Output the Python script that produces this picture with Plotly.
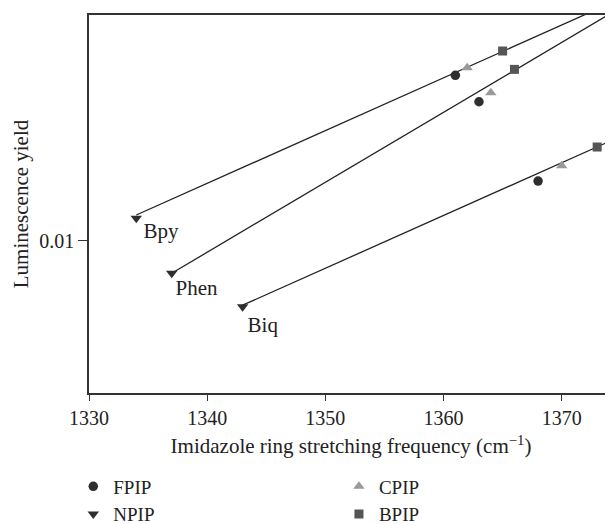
import plotly.graph_objects as go

# Imidazole ring stretching frequency (cm-1) for the three ligand series
groups = ["Bpy", "Phen", "Biq"]
npip_x = [1334, 1337, 1343]
npip_y = [0.01146, 0.00820, 0.00669]
fpip_x = [1361, 1363, 1368]
fpip_y = [0.02738, 0.02331, 0.01438]
cpip_x = [1362, 1364, 1370]
cpip_y = [0.02868, 0.02462, 0.01579]
bpip_x = [1365, 1366, 1373]
bpip_y = [0.03175, 0.02839, 0.01769]

# fitted lines (start / end)
fit_x0 = [1334, 1337, 1343]
fit_y0 = [0.01169, 0.00820, 0.00675]
fit_x1 = [1375, 1375, 1375]
fit_y1 = [0.04369, 0.04141, 0.01888]

# group label positions
label_x = [1336.1, 1339.1, 1344.7]
label_y = [0.0105, 0.0074, 0.00592]

FONT = "Liberation Serif"
fig = go.Figure()

for i in range(3):
    fig.add_trace(go.Scatter(x=[fit_x0[i], fit_x1[i]], y=[fit_y0[i], fit_y1[i]],
                             mode="lines", line=dict(color="#222222", width=1.3),
                             showlegend=False, hoverinfo="skip"))

fig.add_trace(go.Scatter(x=fpip_x, y=fpip_y, mode="markers", name="FPIP",
                         marker=dict(symbol="circle", size=9.5, color="#2e2e2e"),
                         legend="legend"))
fig.add_trace(go.Scatter(x=npip_x, y=npip_y, mode="markers", name="NPIP",
                         marker=dict(symbol="triangle-down", size=10, color="#2e2e2e"),
                         legend="legend"))
fig.add_trace(go.Scatter(x=cpip_x, y=cpip_y, mode="markers", name="CPIP",
                         marker=dict(symbol="triangle-up", size=10, color="#9a9a9a"),
                         legend="legend2"))
fig.add_trace(go.Scatter(x=bpip_x, y=bpip_y, mode="markers", name="BPIP",
                         marker=dict(symbol="square", size=9, color="#555555"),
                         legend="legend2"))

fig.add_trace(go.Scatter(x=label_x, y=label_y, mode="text", text=groups,
                         textposition="middle center",
                         textfont=dict(family=FONT, size=21, color="#222222"),
                         showlegend=False, hoverinfo="skip"))

legend_common = dict(font=dict(family=FONT, size=19, color="#222222"),
                     orientation="v", xanchor="left", yanchor="top",
                     bgcolor="rgba(0,0,0,0)", tracegroupgap=0)

# The page body adds an 8px offset, so the figure is 8px smaller than the window.
fig.update_layout(
    width=605, height=516,
    margin=dict(l=81, r=0, t=7, b=131, autoexpand=False),
    plot_bgcolor="white", paper_bgcolor="white",
    font=dict(family=FONT, size=20, color="#222222"),
    legend=dict(x=-0.03, y=-0.197, **legend_common),
    legend2=dict(x=0.477, y=-0.197, **legend_common),
    xaxis=dict(range=[1330, 1374.34], dtick=10, tick0=1330, automargin=False,
               ticks="outside", ticklen=6, tickcolor="#333333", tickwidth=1.3,
               showline=True, linecolor="#333333", linewidth=1.5, mirror=True,
               showgrid=False, zeroline=False,
               title=dict(text="Imidazole ring stretching frequency (cm<sup>−1</sup>)",
                          font=dict(family=FONT, size=21), standoff=11),
               tickfont=dict(family=FONT, size=20)),
    yaxis=dict(type="log", range=[-2.403, -1.403], automargin=False,
               tickvals=[0.01], ticktext=["0.01"],
               ticks="outside", ticklen=9, tickcolor="#333333", tickwidth=1.3,
               showline=True, linecolor="#333333", linewidth=1.5,
               showgrid=False, zeroline=False,
               title=dict(text="Luminescence yield", font=dict(family=FONT, size=21),
                          standoff=5),
               tickfont=dict(family=FONT, size=20)),
)

fig.write_html("out.html")
